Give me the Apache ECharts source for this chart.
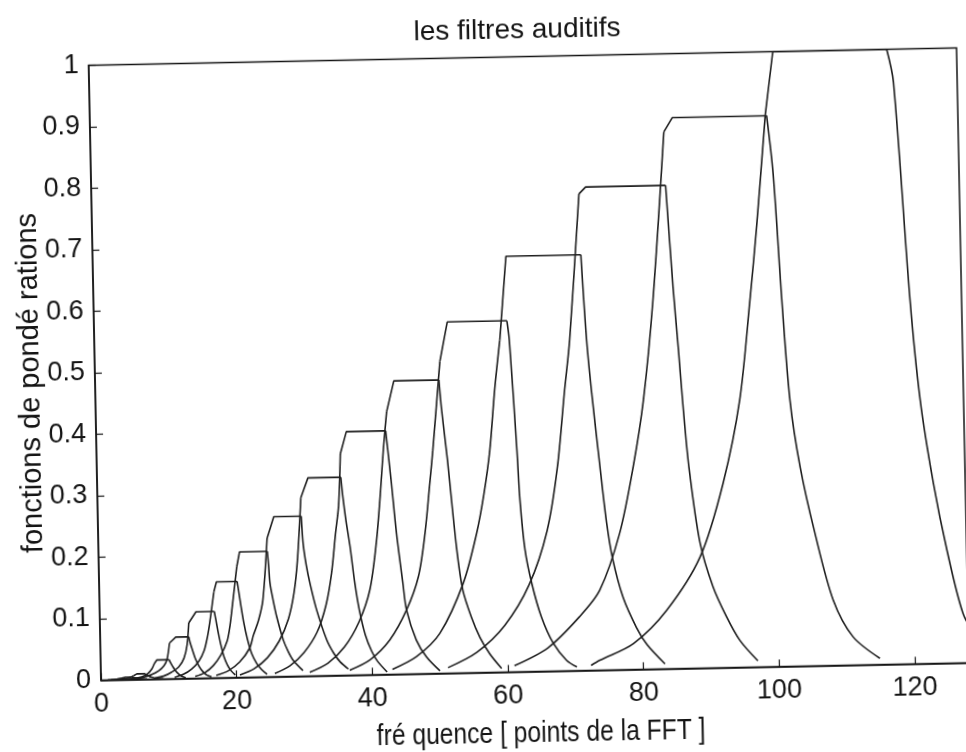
<!DOCTYPE html>
<html>
<head>
<meta charset="utf-8">
<script src="https://cdn.jsdelivr.net/npm/echarts@6.0.0/dist/echarts.min.js"></script>
<style>
  html, body { margin: 0; padding: 0; background: #fff; overflow: hidden; }
  #chart {
    position: absolute; left: 0; top: 0; width: 966px; height: 752px;
    transform: rotate(-1.15deg); transform-origin: 50% 50%;
  }
</style>
</head>
<body>
<div id="chart"></div>
<script>
// Banc de filtres auditifs : chaque filtre = liste de points [indice FFT, poids]
const filtre1  = [[1.0,0.0003],[2.3,0.001],[3.1,0.0025],[3.6,0.004],[4.5,0.004],[5.0,0.0025],[5.8,0.001],[6.8,0.0003]];
const filtre2  = [[1.5,0.0003],[3.0,0.001],[4.2,0.003],[4.8,0.006],[5.3,0.009],[6.5,0.009],[6.9,0.006],[7.5,0.003],[8.3,0.001],[9.2,0.0003]];
const filtre3  = [[3.3,0.0005],[4.8,0.0015],[6.0,0.004],[6.9,0.009],[7.5,0.016],[7.9,0.025],[8.3,0.031],[10.1,0.031],[10.3,0.026],[10.6,0.02],[11.0,0.013],[11.5,0.007],[12.0,0.003],[12.5,0.001]];
const filtre4  = [[4.9,0.001],[6.2,0.003],[7.4,0.007],[8.5,0.013],[9.3,0.021],[9.8,0.032],[10.2,0.058],[11.15,0.0675],[13.06,0.0675],[13.25,0.058],[13.6,0.045],[14.0,0.031],[14.5,0.019],[15.0,0.011],[15.6,0.005],[16.3,0.002]];
const filtre5  = [[8.0,0.002],[9.25,0.0045],[10.4,0.0105],[11.5,0.019],[12.3,0.033],[12.8,0.055],[13.1,0.09],[14.2,0.108],[16.9,0.108],[17.1,0.095],[17.4,0.075],[17.8,0.052],[18.2,0.034],[18.7,0.02],[19.2,0.011],[19.8,0.004]];
const filtre6  = [[10.85,0.002],[12.15,0.0066],[13.4,0.015],[14.5,0.028],[15.3,0.045],[15.8,0.066],[16.2,0.09],[16.9,0.14],[17.3,0.156],[20.35,0.156],[20.5,0.145],[20.8,0.12],[21.2,0.09],[21.7,0.062],[22.3,0.038],[23.0,0.022],[23.7,0.012],[24.5,0.004]];
const filtre7  = [[13.9,0.003],[15.3,0.0085],[16.6,0.02],[17.75,0.037],[18.7,0.059],[19.2,0.086],[19.6,0.118],[20.35,0.18],[20.8,0.204],[24.9,0.204],[25.05,0.18],[25.2,0.152],[25.6,0.125],[26.1,0.097],[27.0,0.059],[27.7,0.04],[28.4,0.026],[29.8,0.009]];
const filtre8  = [[17.0,0.004],[18.8,0.011],[20.5,0.025],[22.0,0.047],[22.6,0.068],[23.4,0.092],[24.1,0.125],[24.9,0.225],[25.95,0.26],[30.0,0.26],[30.2,0.216],[30.6,0.18],[31.1,0.15],[32.0,0.107],[33.4,0.058],[34.4,0.036],[35.3,0.022],[36.5,0.01]];
const filtre9  = [[20.5,0.004],[22.6,0.0135],[24.6,0.031],[26.4,0.058],[27.8,0.093],[28.7,0.135],[29.3,0.187],[30.0,0.29],[31.1,0.322],[35.95,0.322],[36.2,0.29],[36.6,0.25],[37.1,0.21],[37.7,0.15],[38.3,0.105],[39.1,0.065],[40.0,0.038],[40.8,0.022],[42.2,0.004]];
const filtre10 = [[25.65,0.005],[27.9,0.017],[30.0,0.038],[32.0,0.071],[33.4,0.115],[34.3,0.166],[35.0,0.23],[35.55,0.277],[35.95,0.36],[36.9,0.396],[42.7,0.396],[42.96,0.365],[43.4,0.31],[44.0,0.229],[44.8,0.147],[45.25,0.104],[46.6,0.055],[48.06,0.027],[50.0,0.004]];
const filtre11 = [[30.8,0.006],[33.5,0.02],[36.0,0.046],[38.2,0.086],[39.9,0.138],[41.0,0.215],[41.7,0.29],[42.3,0.365],[42.9,0.427],[44.05,0.477],[50.7,0.477],[51.0,0.43],[51.7,0.35],[52.8,0.205],[53.6,0.135],[54.8,0.09],[56.0,0.057],[57.4,0.03],[59.1,0.006]];
const filtre12 = [[36.7,0.008],[39.7,0.024],[42.7,0.056],[45.25,0.104],[47.1,0.158],[48.2,0.228],[49.05,0.309],[49.6,0.363],[50.9,0.507],[52.1,0.571],[60.9,0.571],[61.2,0.54],[62.0,0.36],[62.3,0.279],[62.9,0.198],[63.8,0.143],[65.1,0.089],[66.8,0.045],[68.7,0.017],[70.2,0.006]];
const filtre13 = [[43.0,0.008],[46.6,0.028],[50.1,0.065],[53.7,0.146],[55.8,0.226],[57.0,0.29],[58.0,0.361],[58.9,0.46],[59.8,0.54],[60.95,0.676],[72.0,0.676],[72.6,0.537],[73.2,0.45],[74.2,0.33],[75.0,0.24],[75.8,0.18],[77.2,0.118],[79.1,0.068],[80.6,0.04],[83.2,0.008]];
const filtre14 = [[51.2,0.009],[55.5,0.033],[59.7,0.076],[63.4,0.141],[66.2,0.228],[67.9,0.33],[69.2,0.456],[70.1,0.538],[71.9,0.775],[72.9,0.786],[84.7,0.786],[85.5,0.62],[86.1,0.52],[86.6,0.43],[87.3,0.328],[88.7,0.205],[90.5,0.132],[92.4,0.083],[94.3,0.044],[96.9,0.010]];
const filtre15 = [[61.0,0.01],[66.0,0.038],[70.7,0.087],[73.8,0.130],[76.9,0.222],[79.1,0.33],[80.8,0.438],[82.5,0.60],[84.6,0.873],[85.9,0.896],[99.8,0.896],[100.6,0.80],[101.5,0.596],[102.4,0.433],[103.7,0.324],[105.7,0.215],[108.2,0.106],[111.0,0.046],[114.9,0.010]];
const filtre16 = [[72.3,0.008],[73.6,0.016],[78.6,0.042],[83.6,0.095],[88.7,0.181],[92.3,0.300],[95.0,0.435],[96.8,0.597],[98.0,0.716],[99.6,0.897],[100.9,1.0],[117.7,1.0],[118.6,0.947],[120.4,0.592],[121.6,0.429],[123.3,0.293],[125.1,0.184],[127.3,0.080],[129.5,0.035]];

const filtres = [filtre1, filtre2, filtre3, filtre4, filtre5, filtre6, filtre7, filtre8,
                 filtre9, filtre10, filtre11, filtre12, filtre13, filtre14, filtre15, filtre16];

// Graduations affichées
const graduationsX = [0, 20, 40, 60, 80, 100, 120];
const graduationsY = [0, 0.1, 0.2, 0.3, 0.4, 0.5, 0.6, 0.7, 0.8, 0.9, 1];

// Textes
const titre = 'les filtres auditifs';
const nomAxeX = 'fré quence [ points de la FFT ]';
const nomAxeY = 'fonctions de pondé rations';

const police = '"Liberation Sans", Arial, Helvetica, sans-serif';
const encre = '#141414';
const trait = { color: '#1e1e1e', width: 1.6 };

// Découpe d'un filtre : flanc montant (courbe), palier (segments droits), flanc descendant (courbe)
function decouper(points) {
  const h = Math.max(...points.map(p => p[1]));
  const iDebut = points.findIndex(p => p[1] === h);
  let iFin = iDebut;
  while (iFin + 1 < points.length && points[iFin + 1][1] === h) iFin++;
  const iCoude = Math.max(0, iDebut - 1);
  return {
    montee: points.slice(0, iCoude + 1),
    palier: points.slice(iCoude, iFin + 1),
    descente: points.slice(iFin)
  };
}

const series = [];
filtres.forEach((points, i) => {
  const parts = decouper(points);
  const base = {
    type: 'line', showSymbol: false, symbol: 'none', clip: true, silent: true,
    lineStyle: trait
  };
  series.push(Object.assign({}, base, { name: 'filtre ' + (i + 1) + ' montée', data: parts.montee, smooth: 0.3 }));
  series.push(Object.assign({}, base, { name: 'filtre ' + (i + 1) + ' palier', data: parts.palier, smooth: false }));
  series.push(Object.assign({}, base, { name: 'filtre ' + (i + 1) + ' descente', data: parts.descente, smooth: 0.3 }));
});

const chart = echarts.init(document.getElementById('chart'), null, { renderer: 'canvas' });

const option = {
  animation: false,
  backgroundColor: '#ffffff',
  grid: {
    left: 95, right: 3, top: 57.5, bottom: 79.6,
    show: true, borderColor: encre, borderWidth: 1.5, backgroundColor: 'transparent'
  },
  xAxis: {
    type: 'value', min: 0, max: 128, interval: 20,
    axisLine: { show: true, onZero: false, lineStyle: { color: encre, width: 1.5 } },
    axisTick: { show: true, inside: true, length: 7, lineStyle: { color: encre, width: 1.2 } },
    axisLabel: {
      color: encre, fontSize: 27, fontFamily: police, margin: 11, showMaxLabel: false,
      formatter: v => graduationsX.includes(Math.round(v)) && Math.abs(v - Math.round(v)) < 1e-6 ? String(Math.round(v)) : ''
    },
    splitLine: { show: false }
  },
  yAxis: {
    type: 'value', min: 0, max: 1, interval: 0.1,
    axisLine: { show: true, onZero: false, lineStyle: { color: encre, width: 1.5 } },
    axisTick: { show: true, inside: true, length: 7, lineStyle: { color: encre, width: 1.2 } },
    axisLabel: {
      color: encre, fontSize: 27, fontFamily: police, margin: 10,
      formatter: v => {
        const r = Math.round(v * 10) / 10;
        return graduationsY.includes(r) ? String(r) : '';
      }
    },
    splitLine: { show: false }
  },
  graphic: [
    { type: 'text', x: 524, y: 31, silent: true,
      style: { text: titre, font: '28px ' + police, fill: encre, align: 'center', verticalAlign: 'middle' } },
    { type: 'text', x: 534, y: 735, scaleX: 0.85, silent: true,
      style: { text: nomAxeX, font: '29px ' + police, fill: encre, align: 'center', verticalAlign: 'middle' } },
    { type: 'text', x: 31, y: 374, rotation: Math.PI / 2, silent: true,
      style: { text: nomAxeY, font: '29px ' + police, fill: encre, align: 'center', verticalAlign: 'middle' } }
  ],
  series: series
};

chart.setOption(option);
</script>
</body>
</html>
